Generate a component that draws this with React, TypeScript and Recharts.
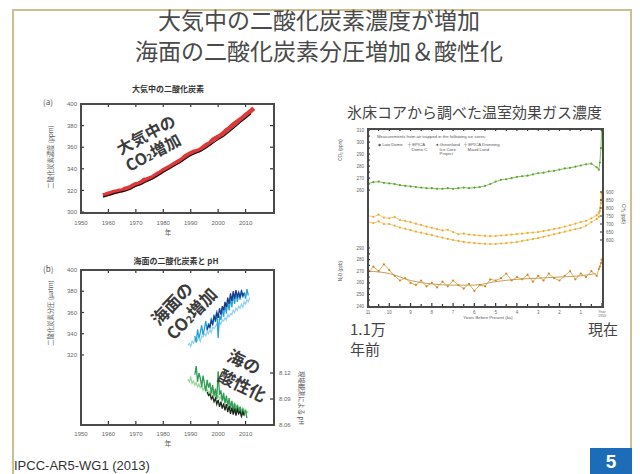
import React from 'react';
import { ComposedChart, Line, XAxis, YAxis } from 'recharts';

const FONT = '"Noto Sans CJK JP", "Noto Sans", sans-serif';

// (a) atmospheric CO2, annual means
const mloYears = [1958, 1959, 1960, 1961, 1962, 1963, 1964, 1965, 1966, 1967, 1968, 1969, 1970, 1971, 1972, 1973, 1974, 1975, 1976, 1977, 1978, 1979, 1980, 1981, 1982, 1983, 1984, 1985, 1986, 1987, 1988, 1989, 1990, 1991, 1992, 1993, 1994, 1995, 1996, 1997, 1998, 1999, 2000, 2001, 2002, 2003, 2004, 2005, 2006, 2007, 2008, 2009, 2010, 2011, 2012, 2013];
const mloPpm = [315.3, 316.0, 316.9, 317.6, 318.5, 319.0, 319.6, 320.0, 321.4, 322.2, 323.0, 324.6, 325.7, 326.3, 327.5, 329.7, 330.2, 331.1, 332.1, 333.8, 335.4, 336.8, 338.7, 340.1, 341.4, 343.0, 344.6, 346.0, 347.4, 349.2, 351.6, 353.1, 354.4, 355.6, 356.4, 357.1, 358.8, 360.8, 362.6, 363.7, 366.7, 368.4, 369.6, 371.1, 373.2, 375.8, 377.5, 379.8, 381.9, 383.8, 385.6, 387.4, 389.9, 391.6, 393.8, 396.0];
const spoYears = [1958, 1960, 1962, 1964, 1966, 1968, 1970, 1972, 1974, 1976, 1978, 1980, 1982, 1984, 1986, 1988, 1990, 1992, 1994, 1996, 1998, 2000, 2002, 2004, 2006, 2008, 2010, 2012];
const spoPpm = [314.0, 315.3, 317.0, 318.3, 319.3, 321.0, 323.8, 325.7, 328.3, 330.5, 333.5, 336.9, 339.7, 342.7, 345.5, 349.1, 352.3, 354.6, 356.6, 359.9, 363.5, 367.0, 370.2, 374.3, 378.5, 382.7, 386.8, 391.1];

// (b) surface ocean pCO2 (µatm) and pH at three stations
const hotYears = [1989.0, 1989.5, 1990.0, 1990.5, 1991.0, 1991.5, 1992.0, 1992.5, 1993.0, 1993.5, 1994.0, 1994.5, 1995.0, 1995.5, 1996.0, 1996.5, 1997.0, 1997.5, 1998.0, 1998.5, 1999.0, 1999.5, 2000.0, 2000.5, 2001.0, 2001.5, 2002.0, 2002.5, 2003.0, 2003.5, 2004.0, 2004.5, 2005.0, 2005.5, 2006.0, 2006.5, 2007.0, 2007.5, 2008.0, 2008.5, 2009.0, 2009.5, 2010.0, 2010.5, 2011.0, 2011.5];
const hotPco2 = [329, 331, 328, 333, 331, 335, 332, 334, 336, 333, 338, 337, 340, 338, 342, 340, 344, 341, 346, 345, 347, 349, 346, 351, 349, 353, 352, 355, 353, 358, 356, 359, 358, 362, 360, 364, 362, 366, 364, 368, 365, 370, 368, 372, 370, 374];
const hotPh = [8.113, 8.110, 8.115, 8.108, 8.111, 8.106, 8.109, 8.104, 8.107, 8.103, 8.105, 8.100, 8.103, 8.099, 8.101, 8.097, 8.099, 8.095, 8.098, 8.093, 8.096, 8.092, 8.094, 8.090, 8.093, 8.088, 8.091, 8.087, 8.089, 8.085, 8.088, 8.084, 8.086, 8.082, 8.085, 8.080, 8.083, 8.079, 8.081, 8.077, 8.080, 8.076, 8.078, 8.074, 8.076];

const batsYears = [1991.5, 1992.0, 1992.5, 1993.0, 1993.5, 1994.0, 1994.5, 1995.0, 1995.5, 1996.0, 1996.5, 1997.0, 1997.5, 1998.0, 1998.5, 1999.0, 1999.5, 2000.0, 2000.5, 2001.0, 2001.5, 2002.0, 2002.5, 2003.0, 2003.5, 2004.0, 2004.5, 2005.0, 2005.5, 2006.0, 2006.5, 2007.0, 2007.5, 2008.0, 2008.5, 2009.0, 2009.5, 2010.0, 2010.5, 2011.0];
const batsPco2 = [338, 332, 344, 336, 341, 348, 339, 345, 352, 343, 350, 346, 355, 348, 358, 351, 362, 336, 357, 353, 364, 356, 368, 359, 371, 362, 374, 365, 377, 368, 380, 370, 378, 372, 381, 374, 379, 373, 382, 376];
const batsPh = [8.118, 8.128, 8.110, 8.120, 8.114, 8.104, 8.117, 8.108, 8.099, 8.112, 8.103, 8.109, 8.097, 8.106, 8.094, 8.102, 8.090, 8.122, 8.095, 8.100, 8.088, 8.097, 8.085, 8.094, 8.082, 8.091, 8.079, 8.088, 8.076, 8.085, 8.073, 8.083, 8.075, 8.081, 8.070, 8.079, 8.072, 8.077, 8.068];

const estocYears = [1996.0, 1996.5, 1997.0, 1997.5, 1998.0, 1998.5, 1999.0, 1999.5, 2000.0, 2000.5, 2001.0, 2001.5, 2002.0, 2002.5, 2003.0, 2003.5, 2004.0, 2004.5, 2005.0, 2005.5, 2006.0, 2006.5, 2007.0, 2007.5, 2008.0, 2008.5, 2009.0, 2009.5];
const estocPco2 = [344, 348, 346, 352, 349, 356, 353, 360, 355, 364, 358, 366, 362, 370, 365, 374, 368, 378, 371, 380, 373, 381, 375, 379, 374, 380, 376, 378];
const estocPh = [8.098, 8.094, 8.096, 8.090, 8.093, 8.087, 8.091, 8.084, 8.089, 8.081, 8.087, 8.079, 8.085, 8.077, 8.084, 8.075, 8.082, 8.073, 8.080, 8.072, 8.079, 8.071, 8.078, 8.073, 8.076, 8.070, 8.075, 8.071];

// ice core greenhouse gases, thousand years before present
const iceKa = [11, 10.75, 10.5, 10.25, 10, 9.75, 9.5, 9.25, 9, 8.75, 8.5, 8.25, 8, 7.75, 7.5, 7.25, 7, 6.75, 6.5, 6.25, 6, 5.75, 5.5, 5.25, 5, 4.75, 4.5, 4.25, 4, 3.75, 3.5, 3.25, 3, 2.75, 2.5, 2.25, 2, 1.75, 1.5, 1.25, 1, 0.75, 0.5, 0.25, 0.15, 0.1, 0.05, 0.02];
const iceCo2 = [265.5, 266.5, 267, 266, 265.5, 265, 264, 263.5, 263, 262.5, 262, 261.5, 261.5, 261, 261, 261.5, 261, 261.5, 262, 261.5, 262, 262.5, 263.5, 265, 267, 268.5, 269, 270, 271, 271.5, 272, 273, 274, 274.5, 275.5, 276, 277, 278, 278.5, 279.5, 280.5, 281.5, 282, 279, 277, 283, 295, 310];
const iceCh4North = [752, 745, 758, 740, 736, 744, 725, 718, 712, 702, 694, 684, 676, 668, 660, 664, 650, 636, 640, 634, 631, 628, 626, 624, 625, 628, 631, 634, 637, 640, 644, 647, 650, 656, 662, 668, 675, 684, 692, 702, 712, 720, 735, 755, 770, 800, 850, 900];
const iceCh4South = [712, 706, 716, 700, 700, 690, 678, 670, 662, 652, 646, 638, 631, 622, 615, 607, 600, 594, 588, 584, 581, 578, 576, 575, 575, 578, 581, 584, 587, 594, 600, 606, 612, 620, 628, 636, 644, 652, 660, 668, 675, 690, 712, 730, 745, 780, 830, 890];
const iceN2o = [268, 274, 270, 276, 271, 266, 262, 264, 260, 258, 262, 257, 260, 256, 261, 257, 262, 258, 255, 259, 253, 258, 257, 263, 262, 264, 268, 262, 265, 263, 267, 261, 266, 262, 268, 264, 262, 266, 270, 263, 268, 265, 270, 266, 272, 274, 277, 280];
const n2oFitKa = [11, 10, 9, 8, 7, 6, 5, 4, 3, 2, 1, 0.3];
const n2oFitPpb = [270, 268, 262, 259, 258, 258, 261, 263, 264, 265, 266, 268];

const yearTicks = [1950, 1960, 1970, 1980, 1990, 2000, 2010];
const kaTicks = [11, 10.5, 10, 9.5, 9, 8.5, 8, 7.5, 7, 6.5, 6, 5.5, 5, 4.5, 4, 3.5, 3, 2.5, 2, 1.5, 1, 0.5, 0];
const co2Ticks = [260, 265, 270, 275, 280, 285, 290, 295, 300, 305, 310];
const ch4Ticks = [600, 650, 700, 750, 800, 850, 900];
const n2oTicks = [240, 245, 250, 255, 260, 265, 270, 275, 280, 285, 290];

const pairs = (xs: number[], ys: number[]) => ys.map((y, i) => ({ x: xs[i], y }));

const AX = '#333';
const SANS = 'Liberation Sans, sans-serif';

// tick that draws its own inward mark plus the label
const AxisTick = ({ x, y, payload, side, m = 0, len = 3, fmt, fs = 6 }: any) => {
  const v = payload.value;
  const txt = fmt ? fmt(v) : '';
  const t = { fontSize: fs, fill: '#666', fontFamily: SANS };
  const s = { stroke: AX, strokeWidth: 1.2 };
  if (side === 'bottom') {
    return (
      <g>
        <line x1={x} x2={x} y1={y - m} y2={y - m - len} {...s} />
        {txt && <text x={x} y={y} dy="0.71em" textAnchor="middle" {...t}>{txt}</text>}
      </g>
    );
  }
  if (side === 'top') {
    return <line x1={x} x2={x} y1={y + m} y2={y + m + len} {...s} />;
  }
  if (side === 'left') {
    return (
      <g>
        <line x1={x + m} x2={x + m + len} y1={y} y2={y} {...s} />
        {txt && <text x={x} y={y} dy="0.355em" textAnchor="end" {...t}>{txt}</text>}
      </g>
    );
  }
  return (
    <g>
      <line x1={x - m} x2={x - m - len} y1={y} y2={y} {...s} />
      {txt && <text x={x} y={y} dy="0.355em" textAnchor="start" {...t}>{txt}</text>}
    </g>
  );
};

const KaTick = ({ x, y, payload, m }: any) => {
  const v = payload.value;
  const t = { fill: '#666', fontFamily: SANS, textAnchor: 'middle' as const };
  const major = Number.isInteger(v);
  return (
    <g>
      <line x1={x} x2={x} y1={y - m} y2={y - m - (major ? 3 : 2)} stroke={AX} strokeWidth={1.2} />
      {v === 0 ? (
        <text x={x} y={y} fontSize={3.6} {...t}>
          <tspan x={x} dy="0.6em">Year</tspan>
          <tspan x={x} dy="1.1em">1950</tspan>
        </text>
      ) : major ? (
        <text x={x} y={y} dy="0.71em" fontSize={4.5} {...t}>{v}</text>
      ) : null}
    </g>
  );
};

// plot frame around each panel
const Box = ({ x, y, w, h }: any) => (
  <div style={{ position: 'absolute', left: x - 1, top: y - 1, width: w + 2, height: h + 2, borderStyle: 'solid', borderWidth: 2, borderColor: '#4a4a4a', boxSizing: 'border-box', pointerEvents: 'none', zIndex: 5 }} />
);

const Txt = ({ x, y, size, children, style }: any) => (
  <div style={{ position: 'absolute', left: x, top: y, fontSize: size, lineHeight: 1, whiteSpace: 'nowrap', ...style }}>
    {children}
  </div>
);

const Note = ({ x, y, angle, size, lh, lines }: any) => (
  <div
    style={{
      position: 'absolute', left: x, top: y, fontSize: size, lineHeight: `${lh}px`, fontWeight: 700,
      color: '#3b3b3b', whiteSpace: 'nowrap', transform: `rotate(${angle}deg)`, transformOrigin: '0 0', zIndex: 6,
    }}
  >
    {lines.map((l: any, i: number) => <div key={i}>{l}</div>)}
  </div>
);

const Co2Word = () => (
  <span>CO<span style={{ fontSize: '0.6em' }}>2</span>増加</span>
);

const num = (v: number) => String(v);
const tens = (v: number) => (v % 10 === 0 ? String(v) : '');

function PanelA() {
  return (
    <div style={{ position: 'absolute', left: 40, top: 96 }}>
      <ComposedChart width={243} height={150} margin={{ top: 7, right: 9, bottom: 0, left: 0 }}>
        <XAxis xAxisId="b" dataKey="x" type="number" domain={[1950, 2020]} ticks={yearTicks} interval={0} height={34}
          tick={<AxisTick side="bottom" m={9} fmt={num} />} tickSize={0} tickMargin={9} axisLine={false} tickLine={false} allowDataOverflow />
        <XAxis xAxisId="t" orientation="top" dataKey="x" type="number" domain={[1950, 2020]} ticks={yearTicks} interval={0}
          height={1} tick={<AxisTick side="top" />} tickSize={0} tickMargin={0} axisLine={false} tickLine={false} allowDataOverflow />
        <YAxis yAxisId="l" type="number" domain={[300, 400]} ticks={[300, 320, 340, 360, 380, 400]} interval={0} width={41}
          tick={<AxisTick side="left" m={4} fmt={num} />} tickSize={0} tickMargin={4} axisLine={false} tickLine={false} allowDataOverflow />
        <YAxis yAxisId="r" orientation="right" type="number" domain={[300, 400]} ticks={[320, 340, 360, 380]} interval={0} width={1}
          tick={<AxisTick side="right" />} tickSize={0} tickMargin={0} axisLine={false} tickLine={false} allowDataOverflow />
        <Line xAxisId="b" yAxisId="l" data={pairs(mloYears, mloPpm)} dataKey="y" stroke="#dd2222" strokeWidth={4.5}
          strokeOpacity={0.9} dot={false} isAnimationActive={false} />
        <Line xAxisId="b" yAxisId="l" data={pairs(spoYears, spoPpm)} dataKey="y" stroke="#111" strokeWidth={1.1}
          dot={false} isAnimationActive={false} />
      </ComposedChart>
    </div>
  );
}

function PanelB() {
  const ax = { xAxisId: 'b', dot: false, strokeWidth: 1.3, isAnimationActive: false, dataKey: 'y' };
  return (
    <div style={{ position: 'absolute', left: 40, top: 262 }}>
      <ComposedChart width={255} height={190} margin={{ top: 7, right: 0, bottom: 0, left: 0 }}>
        <XAxis xAxisId="b" dataKey="x" type="number" domain={[1950, 2020]} ticks={yearTicks} interval={0} height={28}
          tick={<AxisTick side="bottom" m={8} fmt={num} />} tickSize={0} tickMargin={8} axisLine={false} tickLine={false} allowDataOverflow />
        <XAxis xAxisId="t" orientation="top" dataKey="x" type="number" domain={[1950, 2020]} ticks={yearTicks} interval={0}
          height={1} tick={<AxisTick side="top" />} tickSize={0} tickMargin={0} axisLine={false} tickLine={false} allowDataOverflow />
        <YAxis yAxisId="l" type="number" domain={[255, 400]} ticks={[320, 340, 360, 380, 400]} interval={0} width={41}
          tick={<AxisTick side="left" m={4} fmt={num} />} tickSize={0} tickMargin={4} axisLine={false} tickLine={false} allowDataOverflow />
        <YAxis yAxisId="ph" orientation="right" type="number" domain={[8.0612, 8.2388]} ticks={[8.06, 8.09, 8.12]} interval={0} width={22}
          tick={<AxisTick side="right" m={6} fmt={(v: number) => v.toFixed(2)} />} tickSize={0} tickMargin={6}
          axisLine={false} tickLine={false} allowDataOverflow />
        <Line {...ax} yAxisId="l" data={pairs(hotYears, hotPco2)} stroke="#93d3ee" />
        <Line {...ax} yAxisId="l" data={pairs(batsYears, batsPco2)} stroke="#27a2d6" />
        <Line {...ax} yAxisId="l" data={pairs(estocYears, estocPco2)} stroke="#1d3b8e" />
        <Line {...ax} yAxisId="ph" data={pairs(hotYears.slice(0, hotPh.length), hotPh)} stroke="#98d69a" />
        <Line {...ax} yAxisId="ph" data={pairs(batsYears, batsPh)} stroke="#2f9d52" />
        <Line {...ax} yAxisId="ph" data={pairs(estocYears, estocPh)} stroke="#1c2a1c" />
      </ComposedChart>
    </div>
  );
}

function IceCore() {
  const dot = (c: string) => ({ r: 1.1, fill: c, stroke: 'none' });
  return (
    <>
      <div style={{ position: 'absolute', left: 330, top: 120 }}>
        <ComposedChart width={300} height={210} margin={{ top: 8, right: 4, bottom: 0, left: 0 }}>
          <XAxis xAxisId="b" dataKey="x" type="number" domain={[0, 11]} reversed ticks={kaTicks} interval={0} height={24}
            tick={<KaTick m={5} />} tickSize={0} tickMargin={5} axisLine={false} tickLine={false} allowDataOverflow />
          <XAxis xAxisId="t" orientation="top" dataKey="x" type="number" domain={[0, 11]} reversed ticks={kaTicks} interval={0}
            height={1} tick={<AxisTick side="top" len={2} />} tickSize={0} tickMargin={0} axisLine={false} tickLine={false} allowDataOverflow />
          <YAxis yAxisId="co2" type="number" domain={[163, 311]} ticks={co2Ticks} interval={0} width={38}
            tick={<AxisTick side="left" m={4} len={2} fs={4.5} fmt={tens} />}
            tickSize={0} tickMargin={4} axisLine={false} tickLine={false} allowDataOverflow />
          <YAxis yAxisId="ch4" orientation="right" type="number" domain={[187.5, 1293.75]} ticks={ch4Ticks} interval={0} width={24}
            tick={<AxisTick side="right" m={4} len={2} fs={4.5} fmt={num} />}
            tickSize={0} tickMargin={4} axisLine={false} tickLine={false} allowDataOverflow />
          <Line xAxisId="b" yAxisId="ch4" data={pairs(iceKa, iceCh4North)} dataKey="y" stroke="#f2bd55" strokeWidth={0.8}
            dot={dot('#eeaa30')} isAnimationActive={false} />
          <Line xAxisId="b" yAxisId="ch4" data={pairs(iceKa, iceCh4South)} dataKey="y" stroke="#f2bd55" strokeWidth={0.8}
            dot={dot('#eeaa30')} isAnimationActive={false} />
          <Line xAxisId="b" yAxisId="co2" data={pairs(iceKa, iceCo2)} dataKey="y" stroke="#78b84a" strokeWidth={0.9}
            dot={dot('#5ea236')} isAnimationActive={false} />
        </ComposedChart>
      </div>
      <div style={{ position: 'absolute', left: 330, top: 120 }}>
        <ComposedChart width={300} height={210} margin={{ top: 9, right: 28, bottom: 24, left: 0 }}>
          <XAxis xAxisId="b" dataKey="x" type="number" domain={[0, 11]} reversed hide allowDataOverflow />
          <YAxis yAxisId="n2o" type="number" domain={[240, 392.6]} ticks={n2oTicks} interval={0} width={38}
            tick={<AxisTick side="left" m={4} len={2} fs={4.5} fmt={tens} />}
            tickSize={0} tickMargin={4} axisLine={false} tickLine={false} allowDataOverflow />
          <Line xAxisId="b" yAxisId="n2o" data={pairs(n2oFitKa, n2oFitPpb)} dataKey="y" stroke="#b7842c" strokeWidth={0.8}
            dot={false} type="monotone" isAnimationActive={false} />
          <Line xAxisId="b" yAxisId="n2o" data={pairs(iceKa, iceN2o)} dataKey="y" stroke="#d49a3a" strokeWidth={0.8}
            dot={dot('#c98a25')} isAnimationActive={false} />
        </ComposedChart>
      </div>
    </>
  );
}

export default function App() {
  const rotL = { transform: 'translate(-50%, -50%) rotate(-90deg)' };
  const rotR = { transform: 'translate(-50%, -50%) rotate(90deg)' };
  const center = { transform: 'translateX(-50%)' };
  const small = { color: '#555', fontFamily: SANS };
  return (
    <div style={{ position: 'absolute', left: 0, top: 0, width: 640, height: 474, background: '#fff', overflow: 'hidden', fontFamily: FONT, color: '#333' }}>
      {/* slide frame */}
      <div style={{ position: 'absolute', left: 12, top: 9, width: 616, height: 480, border: '2px solid #cdbf92' }} />
      <Txt x={319} y={8} size={23} style={{ ...center, color: '#4a4a4a' }}>大気中の二酸化炭素濃度が増加</Txt>
      <Txt x={319} y={39} size={23} style={{ ...center, color: '#4a4a4a' }}>海面の二酸化炭素分圧増加＆酸性化</Txt>

      {/* left column */}
      <Txt x={168} y={85} size={8} style={{ ...center, fontWeight: 700 }}>大気中の二酸化炭素</Txt>
      <Txt x={43} y={98} size={8} style={{ color: '#555' }}>(a)</Txt>
      <Txt x={51} y={157} size={6.3} style={{ ...rotL, color: '#555' }}>二酸化炭素濃度 (ppm)</Txt>
      <PanelA />
      <Box x={81} y={104} w={193} h={109} />
      <Txt x={168} y={229} size={6.5} style={{ ...center, color: '#555' }}>年</Txt>

      <Txt x={176} y={257} size={8} style={{ ...center, fontWeight: 700 }}>海面の二酸化炭素と pH</Txt>
      <Txt x={43} y={265} size={8} style={{ color: '#555' }}>(b)</Txt>
      <Txt x={51} y={313} size={6.3} style={{ ...rotL, color: '#555' }}>二酸化炭素分圧 (μatm)</Txt>
      <PanelB />
      <Box x={81} y={270} w={193} h={155} />
      <Txt x={301} y={398} size={6.3} style={{ ...rotR, color: '#555' }}>現場観測による pH</Txt>
      <Txt x={168} y={440} size={6.5} style={{ ...center, color: '#555' }}>年</Txt>

      <Note x={113} y={141} angle={-28} size={16} lh={19} lines={['大気中の', <Co2Word key="c" />]} />
      <Note x={146} y={314} angle={-46} size={17} lh={21} lines={['海面の', <Co2Word key="c" />]} />
      <Note x={234} y={344} angle={26} size={17} lh={22} lines={['海の', '酸性化']} />

      {/* right column */}
      <Txt x={347} y={104} size={15} style={{ color: '#444' }}>氷床コアから調べた温室効果ガス濃度</Txt>
      <IceCore />
      <Box x={368} y={129} w={235} h={178} />
      <Txt x={377} y={135} size={4.3} style={small}>Measurements from air trapped in the following ice cores:</Txt>
      <Txt x={378} y={143} size={4.3} style={small}>◆ Law Dome</Txt>
      <Txt x={408} y={143} size={4.3} style={{ ...small, lineHeight: 1.1 }}>┼ EPICA<br />&nbsp;&nbsp;&nbsp;Dome C</Txt>
      <Txt x={436} y={143} size={4.3} style={{ ...small, lineHeight: 1.1 }}>● Greenland<br />&nbsp;&nbsp;&nbsp;Ice Core<br />&nbsp;&nbsp;&nbsp;Project</Txt>
      <Txt x={464} y={143} size={4.3} style={{ ...small, lineHeight: 1.1 }}>┼ EPICA Dronning<br />&nbsp;&nbsp;&nbsp;Maud Land</Txt>
      <Txt x={341} y={150} size={4.5} style={{ ...rotL, ...small }}>CO₂ (ppm)</Txt>
      <Txt x={341} y={271} size={4.5} style={{ ...rotL, ...small }}>N₂O (ppb)</Txt>
      <Txt x={623} y={214} size={4.5} style={{ ...rotR, ...small }}>CH₄ (ppb)</Txt>
      <Txt x={488} y={316} size={4.3} style={{ ...center, ...small }}>Years Before Present (ka)</Txt>
      <Txt x={350} y={321} size={15} style={{ color: '#444' }}>1.1万</Txt>
      <Txt x={350} y={341} size={15} style={{ color: '#444' }}>年前</Txt>
      <Txt x={588} y={321} size={15} style={{ color: '#444' }}>現在</Txt>

      {/* footer */}
      <Txt x={14} y={459} size={13} style={{ color: '#333', fontFamily: SANS }}>IPCC-AR5-WG1 (2013)</Txt>
      <div style={{ position: 'absolute', left: 590, top: 448, width: 42, height: 30, background: '#1c6cb8' }} />
      <Txt x={611} y={452} size={19} style={{ ...center, color: '#fff', fontWeight: 700, fontFamily: SANS }}>5</Txt>
    </div>
  );
}
